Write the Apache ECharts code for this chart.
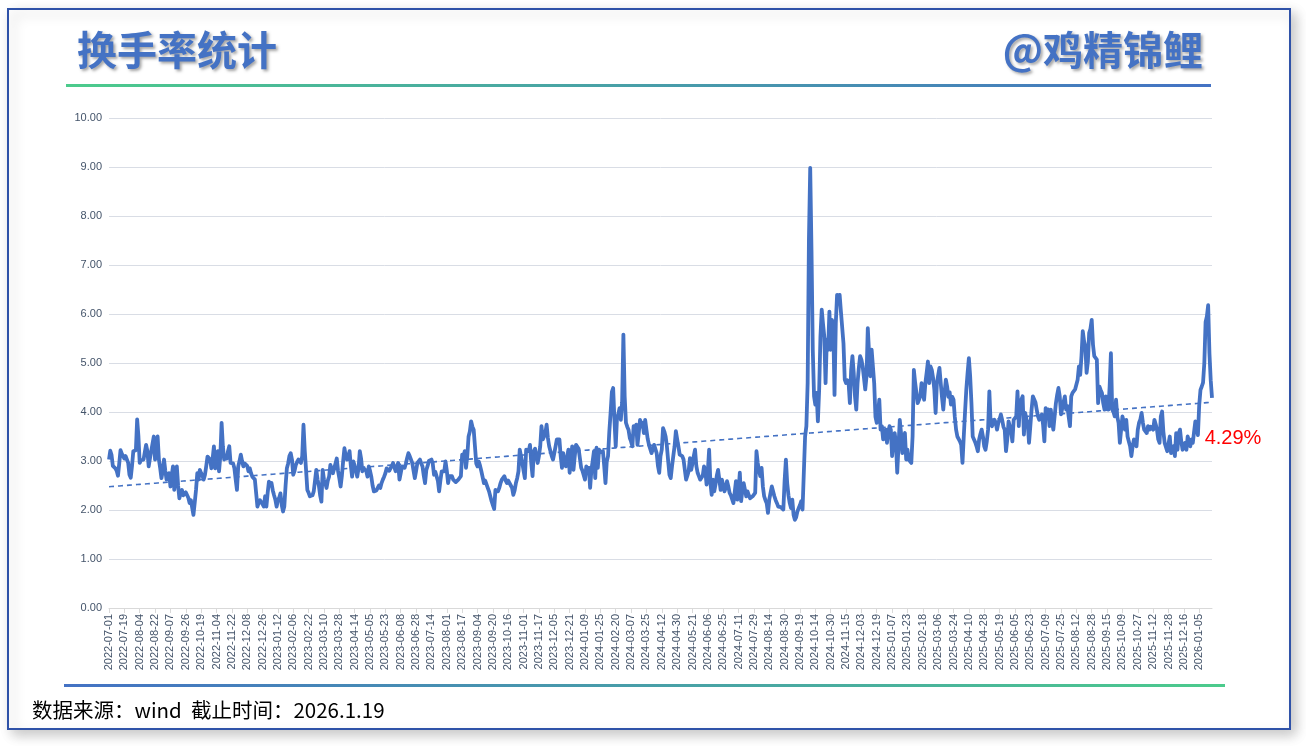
<!DOCTYPE html>
<html>
<head>
<meta charset="utf-8">
<script src="https://cdn.jsdelivr.net/npm/echarts@6/dist/echarts.min.js"></script>
<style>
html,body{margin:0;padding:0;background:#fff;}
#chart{width:1306px;height:746px;}
</style>
</head>
<body>
<div id="chart"></div>
<script>
// ---- data ----
const titleText = '换手率统计';
const authorText = '@鸡精锦鲤';
const footerText = '数据来源：wind  截止时间：2026.1.19';
const startDate = '2022-07-01';
const endDate = '2026-01-19';
// exchange holidays falling on weekdays
const holidays = [
  '2022-09-12','2022-10-03','2022-10-04','2022-10-05','2022-10-06','2022-10-07',
  '2023-01-02','2023-01-23','2023-01-24','2023-01-25','2023-01-26','2023-01-27',
  '2023-04-05','2023-05-01','2023-05-02','2023-05-03','2023-06-22','2023-06-23',
  '2023-09-29','2023-10-02','2023-10-03','2023-10-04','2023-10-05','2023-10-06',
  '2024-01-01','2024-02-09','2024-02-12','2024-02-13','2024-02-14','2024-02-15','2024-02-16',
  '2024-04-04','2024-04-05','2024-05-01','2024-05-02','2024-05-03','2024-06-10',
  '2024-09-16','2024-09-17','2024-10-01','2024-10-02','2024-10-03','2024-10-04','2024-10-07',
  '2025-01-01','2025-01-28','2025-01-29','2025-01-30','2025-01-31','2025-02-03','2025-02-04',
  '2025-04-04','2025-05-01','2025-05-02','2025-05-05','2025-06-02',
  '2025-10-01','2025-10-02','2025-10-03','2025-10-06','2025-10-07','2025-10-08',
  '2026-01-01','2026-01-02'
];
// daily turnover rate (%)
const turnover = [
  3.03,3.21,3.12,2.90,2.88,2.85,2.80,2.70,2.95,3.22,3.15,3.12,
  3.05,3.10,3.08,2.96,2.72,2.66,2.90,3.20,3.18,3.22,3.85,3.50,
  2.96,3.02,3.06,3.03,3.18,3.33,3.20,2.89,3.05,3.20,3.35,3.50,
  3.03,3.30,3.50,3.03,2.85,2.65,2.80,3.03,2.80,2.62,2.70,2.75,
  2.48,2.70,2.89,2.41,2.38,2.89,2.50,2.24,2.35,2.41,2.30,2.33,
  2.36,2.34,2.25,2.14,2.20,2.05,1.90,2.15,2.41,2.75,2.62,2.82,
  2.75,2.70,2.62,2.72,2.90,3.09,3.05,3.03,2.85,3.05,3.30,2.85,
  3.00,3.20,2.79,3.10,3.78,3.30,3.03,3.10,3.05,3.20,3.30,2.96,
  3.00,2.95,2.85,2.62,2.41,2.89,3.00,3.13,3.00,2.89,2.95,2.96,
  2.90,2.79,2.85,2.75,2.68,2.70,2.62,2.65,2.07,2.15,2.20,2.24,
  2.12,2.07,2.28,2.07,2.35,2.58,2.50,2.55,2.40,2.30,2.21,2.07,
  2.20,2.25,2.34,2.10,1.97,2.07,2.50,2.85,2.95,3.10,3.16,3.03,
  2.72,2.80,2.92,2.98,3.03,3.00,2.96,3.10,3.74,3.20,2.82,2.41,
  2.35,2.28,2.24,2.30,2.38,2.60,2.82,2.62,2.50,2.30,2.17,2.82,
  2.62,2.55,2.45,2.60,2.68,2.92,2.85,2.75,2.85,2.95,3.05,2.80,
  2.65,2.48,2.70,3.00,3.26,3.10,3.03,3.10,3.20,2.90,2.68,2.99,
  2.90,2.80,2.68,2.85,3.20,3.05,2.79,2.85,2.89,2.80,2.68,2.89,
  2.80,2.68,2.50,2.38,2.34,2.40,2.45,2.50,2.45,2.55,2.62,2.68,
  2.75,2.85,2.89,2.80,2.85,2.90,2.96,2.96,2.79,2.88,2.96,2.62,
  2.75,2.89,2.85,2.86,2.95,3.06,3.16,3.10,3.13,2.96,2.80,2.65,
  2.80,2.96,3.00,3.03,2.95,2.89,2.70,2.55,2.82,2.90,3.00,3.03,
  3.03,2.95,2.72,2.78,2.82,2.60,2.38,2.60,2.79,2.75,2.79,2.99,
  2.80,2.55,2.69,2.65,2.69,2.62,2.59,2.57,2.55,2.62,2.65,2.69,
  3.13,3.05,3.20,2.86,3.10,3.50,3.60,3.81,3.70,3.64,3.30,2.95,
  2.89,2.99,2.90,2.79,2.82,2.55,2.60,2.59,2.45,2.38,2.35,2.18,
  2.10,2.02,2.41,2.45,2.38,2.45,2.55,2.62,2.65,2.69,2.60,2.55,
  2.60,2.62,2.50,2.45,2.31,2.40,2.55,2.65,2.79,3.23,3.27,2.96,
  2.80,2.65,3.23,3.27,3.20,3.33,2.96,2.69,3.20,3.25,3.27,2.96,
  3.10,3.30,3.71,3.44,3.50,3.57,3.74,3.47,3.30,3.20,3.10,3.03,
  3.16,3.30,3.44,3.40,3.44,3.10,2.86,3.16,3.00,2.89,3.05,3.23,
  2.76,3.05,3.30,2.82,3.10,3.33,3.30,3.25,3.27,2.86,2.80,2.79,
  2.62,2.89,2.80,2.86,2.45,2.82,3.00,3.20,2.65,3.27,2.86,3.23,
  3.18,3.16,3.20,2.90,2.55,2.99,3.10,3.60,3.98,4.41,4.49,3.84,
  3.30,3.88,3.95,4.08,3.84,4.20,5.58,4.32,3.78,3.70,3.64,3.47,
  3.40,3.30,3.71,3.60,3.74,3.33,3.57,3.84,3.70,3.78,3.57,3.84,
  3.64,3.45,3.33,3.30,3.16,3.25,3.33,3.37,3.16,2.90,2.76,3.10,
  3.23,3.67,3.60,3.50,3.30,3.00,2.72,2.65,2.89,3.10,3.30,3.61,
  3.45,3.30,3.13,3.15,3.10,3.03,2.82,2.62,2.70,2.79,3.06,2.82,
  2.95,3.10,3.23,2.90,2.76,2.69,2.62,2.59,2.70,2.89,2.82,2.52,
  2.80,3.23,2.55,2.31,2.62,2.38,2.52,2.70,2.82,2.80,2.41,2.62,
  2.50,2.38,2.45,2.59,2.48,2.35,2.30,2.28,2.14,2.11,2.59,2.21,
  2.40,2.76,2.18,2.40,2.55,2.59,2.28,2.38,2.30,2.24,2.21,2.28,
  2.30,2.35,3.20,2.96,2.80,2.69,2.86,2.48,2.28,2.20,2.14,1.94,
  2.21,2.35,2.48,2.52,2.28,2.20,2.14,2.07,2.04,2.06,2.04,2.01,
  2.60,3.03,2.55,2.30,2.14,2.04,2.21,1.90,1.80,1.85,1.97,2.04,
  2.10,2.18,2.01,2.04,3.50,3.71,4.59,7.52,8.98,7.31,5.27,4.32,
  4.15,4.39,3.81,4.46,5.54,6.09,5.80,5.54,4.59,5.48,5.27,6.05,
  5.27,5.88,5.75,4.35,5.82,6.39,6.30,6.39,6.05,6.02,5.40,4.66,
  4.59,4.65,4.59,4.18,4.86,5.14,4.80,4.32,4.05,4.59,4.90,5.14,
  5.07,4.93,4.70,4.46,4.73,5.71,5.20,4.73,5.27,5.27,4.59,3.90,
  3.78,3.98,4.25,3.64,3.71,3.44,3.55,3.64,3.37,3.60,3.71,3.64,
  3.10,3.40,3.57,3.37,2.76,3.30,3.84,3.57,3.16,3.50,3.57,3.03,
  3.23,3.03,3.00,2.96,3.50,4.86,4.60,4.39,4.18,4.25,4.32,4.59,
  4.40,4.25,4.59,4.80,5.03,4.59,4.93,4.86,4.70,4.46,3.98,4.59,
  4.75,4.90,4.59,4.30,4.05,4.39,4.66,4.52,4.31,4.40,4.15,4.31,
  4.25,3.90,3.64,3.50,3.47,3.40,3.33,2.96,3.50,4.00,4.46,4.80,
  5.10,4.73,4.18,3.50,3.44,3.38,3.30,3.20,3.44,3.55,3.64,3.50,
  3.30,3.23,3.40,3.64,4.42,3.78,3.71,3.75,3.84,3.78,3.64,3.78,
  3.85,3.95,3.84,3.70,3.64,3.20,3.44,3.81,3.78,3.60,3.40,3.84,
  3.88,3.91,4.42,3.71,4.18,4.25,4.32,3.54,3.98,3.85,3.78,3.37,
  3.70,4.05,4.32,4.32,4.20,4.05,3.91,3.84,3.90,3.95,3.74,3.40,
  4.08,4.00,4.05,3.71,4.05,3.80,3.64,3.91,4.18,4.35,4.49,4.32,
  3.95,4.08,4.20,4.32,4.05,4.12,3.90,3.71,4.32,4.39,4.35,4.46,
  4.50,4.66,4.93,4.76,5.14,5.65,5.45,5.34,4.80,5.03,5.61,5.70,
  5.88,5.37,5.14,5.10,5.07,4.18,4.52,4.45,4.39,4.18,4.05,4.32,
  4.20,4.05,4.52,5.20,4.05,4.00,3.91,4.25,3.90,3.78,3.37,3.37,
  3.91,3.80,3.64,3.84,3.50,3.40,3.30,3.10,3.30,3.44,3.40,3.30,
  3.64,3.78,3.85,3.98,3.78,3.64,3.60,3.57,3.71,3.64,3.70,3.74,
  3.64,3.84,3.75,3.64,3.44,3.37,3.91,4.01,3.60,3.37,3.37,3.20,
  3.16,3.50,3.16,3.25,3.30,3.10,3.57,3.23,3.57,3.64,3.40,3.23,
  3.30,3.37,3.23,3.50,3.40,3.30,3.44,3.37,3.60,3.81,3.78,3.53,
  4.14,4.45,4.52,4.60,5.00,5.84,5.95,6.18,5.20,4.65,4.29
];

// ---- trading calendar (weekdays minus holidays) ----
function tradingDays(start, end, hol) {
  const set = new Set(hol);
  const out = [];
  const d = new Date(start + 'T00:00:00Z');
  const e = new Date(end + 'T00:00:00Z');
  while (d <= e) {
    const wd = d.getUTCDay();
    const s = d.toISOString().slice(0, 10);
    if (wd !== 0 && wd !== 6 && !set.has(s)) out.push(s);
    d.setUTCDate(d.getUTCDate() + 1);
  }
  return out;
}
const dates = tradingDays(startDate, endDate, holidays);

// linear trend (least squares) of the series
const n = turnover.length;
let sx = 0, sy = 0, sxy = 0, sxx = 0;
for (let i = 0; i < n; i++) { sx += i; sy += turnover[i]; sxy += i * turnover[i]; sxx += i * i; }
const slope = (n * sxy - sx * sy) / (n * sxx - sx * sx);
const intercept = (sy - slope * sx) / n;
const trend = turnover.map((_, i) => +(intercept + slope * i).toFixed(4));

const lastIdx = n - 1;
const lastVal = turnover[lastIdx];

const chart = echarts.init(document.getElementById('chart'), null, { renderer: 'canvas' });
const textShadow = { textShadowColor: 'rgba(0,0,0,0.35)', textShadowBlur: 3, textShadowOffsetX: 2, textShadowOffsetY: 2 };

chart.setOption({
  backgroundColor: '#ffffff',
  animation: false,
  grid: { left: 109, right: 94, top: 118, bottom: 138, containLabel: false },
  xAxis: {
    type: 'category',
    data: dates.slice(0, n),
    boundaryGap: false,
    axisLine: { lineStyle: { color: '#D9D9D9', width: 1 } },
    axisTick: { show: true, interval: 11, length: 5, lineStyle: { color: '#D9D9D9' } },
    axisLabel: {
      interval: 11, rotate: 90, margin: 6,
      color: '#44546A', fontSize: 11, fontFamily: 'Liberation Sans'
    },
    splitLine: { show: false }
  },
  yAxis: {
    type: 'value', min: 0, max: 10, interval: 1,
    axisLine: { show: false }, axisTick: { show: false },
    axisLabel: {
      color: '#44546A', fontSize: 11, fontFamily: 'Liberation Sans', margin: 7,
      formatter: v => v.toFixed(2)
    },
    splitLine: { lineStyle: { color: '#D9DDE5', width: 1 } }
  },
  series: [
    {
      name: '换手率', type: 'line', data: turnover, showSymbol: false, smooth: false,
      lineStyle: { color: '#4472C4', width: 3.8, join: 'round' },
      itemStyle: { color: '#4472C4' },
      z: 3,
      markPoint: {
        symbol: 'circle', symbolSize: 0,
        data: [{ coord: [lastIdx, lastVal], value: lastVal }],
        label: {
          show: true, position: 'inside', offset: [21, 41],
          formatter: p => p.value.toFixed(2) + '%',
          color: '#FF0000', fontSize: 20, fontFamily: 'Liberation Sans'
        }
      }
    },
    {
      name: '趋势', type: 'line', data: trend, showSymbol: false,
      lineStyle: { color: '#4472C4', width: 1.6, type: [5, 4] },
      z: 4, silent: true
    }
  ],
  graphic: [
    {
      type: 'rect', z: -10, silent: true,
      shape: { x: 8, y: 9, width: 1282, height: 720 },
      style: { fill: '#ffffff', stroke: '#2F52A8', lineWidth: 2,
        shadowBlur: 12, shadowColor: 'rgba(0,0,0,0.22)', shadowOffsetX: 5, shadowOffsetY: 5 }
    },
    {
      type: 'rect', silent: true,
      shape: { x: 66, y: 84, width: 1145, height: 3 },
      style: { fill: new echarts.graphic.LinearGradient(0, 0, 1, 0, [
        { offset: 0, color: '#4CCB8C' }, { offset: 1, color: '#4472C4' }]) }
    },
    {
      type: 'rect', silent: true,
      shape: { x: 64, y: 684, width: 1161, height: 3 },
      style: { fill: new echarts.graphic.LinearGradient(0, 0, 1, 0, [
        { offset: 0, color: '#4472C4' }, { offset: 1, color: '#4CCB8C' }]) }
    },
    {
      type: 'text', left: 77, top: 30, silent: true,
      style: Object.assign({ text: titleText, fill: '#4472C4', fontSize: 40, fontWeight: 'bold',
        fontFamily: 'Noto Sans CJK SC' }, textShadow)
    },
    {
      type: 'text', right: 103, top: 30, silent: true,
      style: Object.assign({ text: authorText, fill: '#4472C4', fontSize: 40, fontWeight: 'bold',
        fontFamily: 'Noto Sans CJK SC' }, textShadow)
    },
    {
      type: 'text', left: 32, top: 700, silent: true,
      style: { text: footerText, fill: '#000000', fontSize: 20.5, fontFamily: 'Noto Sans CJK SC' }
    }
  ]
});
</script>
</body>
</html>
